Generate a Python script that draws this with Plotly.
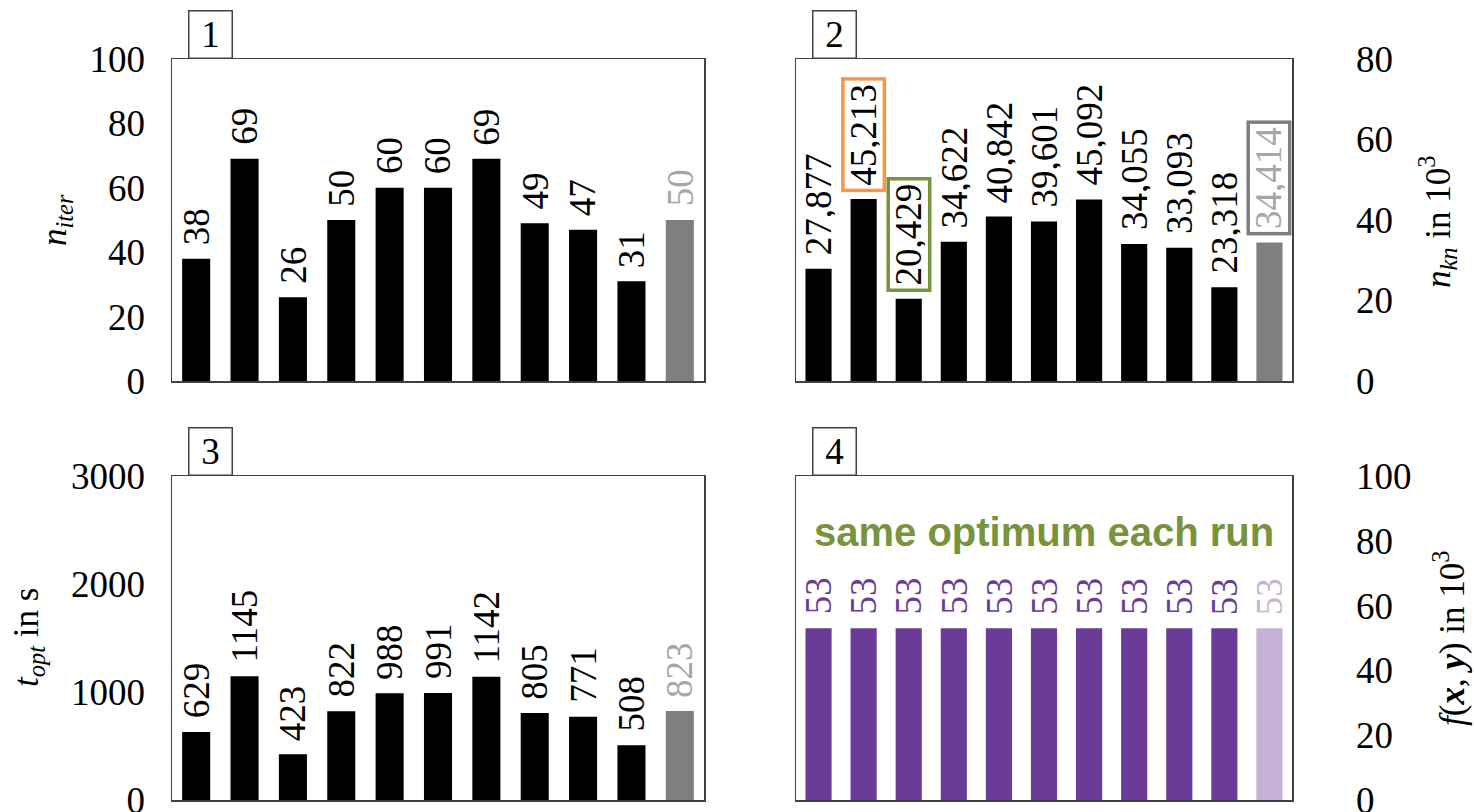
import plotly.graph_objects as go

# ---------------- data ----------------
runs = ["Run 1", "Run 2", "Run 3", "Run 4", "Run 5", "Run 6", "Run 7",
        "Run 8", "Run 9", "Run 10", "Mean"]
n_iter = [38, 69, 26, 50, 60, 60, 69, 49, 47, 31, 50]
n_kn = [27877, 45213, 20429, 34622, 40842, 39601, 45092, 34055, 33093, 23318, 34414]
t_opt = [629, 1145, 423, 822, 988, 991, 1142, 805, 771, 508, 823]
f_opt = [53, 53, 53, 53, 53, 53, 53, 53, 53, 53, 53]

# highlighted labels in panel 2 (index -> frame colour)
highlight_kn = {1: "#F79646", 2: "#77933C", 10: "#7F7F7F"}

# ---------------- styling ----------------
SERIF = "Liberation Serif"
FS = 37
FS_TITLE = 35
FRAME = "#404040"
BLACK, GREY, GREY_TXT = "#000000", "#7F7F7F", "#A6A6A6"
PURPLE, LPURPLE = "#6A3C97", "#C8B1D7"

W, H = 1474, 812
def xdom(l, r):
    return [l / W, r / W]
def ydom(t, b):
    return [1 - b / H, 1 - t / H]

panels = [
    dict(ax="", vals=n_iter, bary=n_iter, labels=[str(v) for v in n_iter],
         yr=[0, 100], dtick=20, side="left", xd=xdom(172, 704), yd=ydom(59, 381),
         col=BLACK, mcol=GREY, tcol=BLACK, mtcol=GREY_TXT, num="1"),
    dict(ax="2", vals=n_kn, bary=[v / 1000 for v in n_kn],
         labels=[f"{v:,}" for v in n_kn],
         yr=[0, 80], dtick=20, side="right", xd=xdom(796, 1292), yd=ydom(59, 381),
         col=BLACK, mcol=GREY, tcol=BLACK, mtcol=GREY_TXT, num="2"),
    dict(ax="3", vals=t_opt, bary=t_opt, labels=[str(v) for v in t_opt],
         yr=[0, 3000], dtick=1000, side="left", xd=xdom(172, 704), yd=ydom(476, 800),
         col=BLACK, mcol=GREY, tcol=BLACK, mtcol=GREY_TXT, num="3"),
    dict(ax="4", vals=f_opt, bary=f_opt, labels=[str(v) for v in f_opt],
         yr=[0, 100], dtick=20, side="right", xd=xdom(796, 1292), yd=ydom(476, 800),
         col=PURPLE, mcol=LPURPLE, tcol=PURPLE, mtcol=LPURPLE, num="4"),
]

fig = go.Figure()
annotations = []
layout = {}

for p in panels:
    a = p["ax"]
    xa, ya = "x" + a, "y" + a
    n = len(runs)
    colors = [p["col"]] * (n - 1) + [p["mcol"]]
    fig.add_trace(go.Bar(x=runs, y=p["bary"], marker=dict(color=colors, line=dict(width=0)),
                         xaxis=xa, yaxis=ya, showlegend=False, hoverinfo="skip"))
    layout["xaxis" + a] = dict(domain=p["xd"], anchor=ya, type="category",
                               range=[-0.5, n - 0.5], showticklabels=False, ticks="",
                               showline=True, mirror=True, linecolor=FRAME, linewidth=1.5,
                               showgrid=False, zeroline=False, fixedrange=True)
    layout["yaxis" + a] = dict(domain=p["yd"], anchor=xa, side=p["side"], range=p["yr"],
                               dtick=p["dtick"], ticks="", showline=True, mirror=True,
                               linecolor=FRAME, linewidth=1.5, showgrid=False,
                               zeroline=False, fixedrange=True, automargin=False,
                               ticklabeloverflow="allow",
                               ticklabelstandoff=(18 if p["side"] == "left" else 55),
                               tickfont=dict(family=SERIF, size=FS, color="black"))
    # bar value labels
    for i, (cat, yv, lab) in enumerate(zip(runs, p["bary"], p["labels"])):
        tcol = p["mtcol"] if i == n - 1 else p["tcol"]
        bcol = "rgba(0,0,0,0)"
        if a == "2" and i in highlight_kn:
            bcol = highlight_kn[i]
        annotations.append(dict(x=cat, y=yv, xref=xa, yref=ya, text=lab, showarrow=False,
                                textangle=-90, yanchor="bottom", xanchor="center",
                                yshift=7, height=32, borderpad=3, borderwidth=3.5,
                                bordercolor=bcol,
                                font=dict(family=SERIF, size=FS, color=tcol)))
    # panel number box
    annotations.append(dict(x=0, y=1, xref=xa + " domain", yref=ya + " domain",
                            xanchor="left", yanchor="bottom", xshift=16, text=p["num"],
                            showarrow=False, width=40, height=44, borderpad=1,
                            borderwidth=1.5, bordercolor=FRAME, bgcolor="white",
                            font=dict(family=SERIF, size=FS, color="black")))

# axis titles
titles = [
    ("<i>n<sub>iter</sub></i>", 56, 220),
    ("<i>n<sub>kn</sub></i> in 10<sup>3</sup>", 1437, 222),
    ("<i>t<sub>opt</sub></i> in s", 28, 638),
    ("<i>f</i>(<b><i>x</i></b>, <b><i>y</i></b>) in 10<sup>3</sup>", 1449, 638),
]
for txt, px, py in titles:
    annotations.append(dict(x=px / W, y=1 - py / H, xref="paper", yref="paper",
                            text=txt, showarrow=False, textangle=-90,
                            xanchor="center", yanchor="middle",
                            font=dict(family=SERIF, size=FS_TITLE, color="black")))

annotations.append(dict(x=0.5, y=0.827, xref="x4 domain", yref="y4 domain",
                        text="<b>same optimum each run</b>", showarrow=False,
                        xanchor="center", yanchor="middle",
                        font=dict(family="Liberation Sans", size=40, color="#77933C")))

fig.update_layout(**layout)
fig.update_layout(width=W, height=H,
                  margin=dict(l=0, r=0, t=0, b=0, pad=0, autoexpand=False),
                  paper_bgcolor="white", plot_bgcolor="white",
                  bargap=0.42, annotations=annotations,
                  font=dict(family=SERIF, size=FS, color="black"))

fig.write_html("out.html",
               config={"displayModeBar": False, "staticPlot": True},
               post_script="document.body.style.margin='0px';"
                           "document.body.style.overflow='hidden';")
